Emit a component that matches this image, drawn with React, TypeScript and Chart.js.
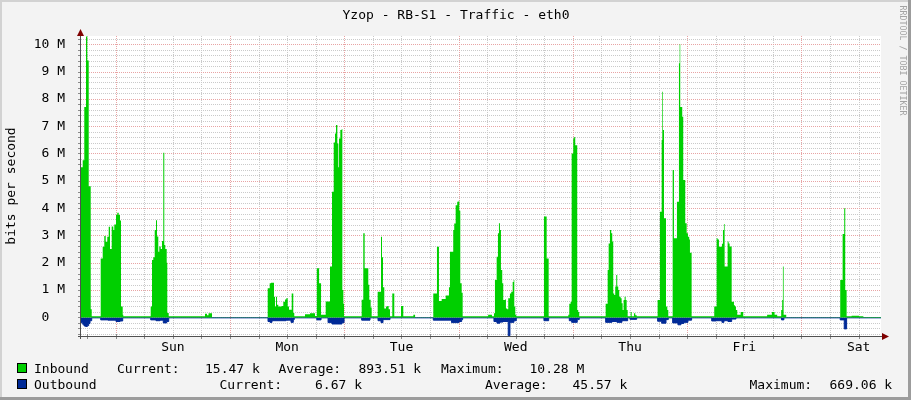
import React, { useEffect, useRef } from 'react';
import { Chart, registerables } from 'chart.js';
Chart.register(...registerables);

// ---------- text ----------
const TITLE = 'Yzop - RB-S1 - Traffic - eth0';
const Y_TITLE = 'bits per second';
const WATERMARK = 'RRDTOOL / TOBI OETIKER';
const dayLabels = ['Sun', 'Mon', 'Tue', 'Wed', 'Thu', 'Fri', 'Sat'];
const yTickValues = [0, 1, 2, 3, 4, 5, 6, 7, 8, 9, 10];
const inboundStats = ['15.47 k', '893.51 k', '10.28 M'];
const outboundStats = ['6.67 k', '45.57 k', '669.06 k'];

// ---------- data: [hour of day, Mbit/s] steps, per day ----------
const inSatPrev = [[16.7,5.5],[17.06,5.75],[17.39,7.7],[17.75,10.28],[18.02,9.4],[18.32,4.8],[18.74,0.3],[18.95,0.04],[20.84,2.16],[21.26,2.59],[21.59,2.98],[21.89,2.77],[22.22,2.95],[22.52,3.32],[22.79,2.5],[23.15,3.33],[23.48,3.2],[23.69,3.4]];
const inSun = [[0.05,3.75],[0.32,3.83],[0.62,3.75],[0.89,3.55],[1.1,0.4],[1.46,0.1],[1.58,0.04],[7.34,0.4],[7.61,2.1],[7.88,2.2],[8.18,3.2],[8.45,3.56],[8.66,2.96],[8.93,2.4],[9.14,2.6],[9.44,2.5],[9.71,2.8],[9.98,6.03],[10.19,2.65],[10.4,2.5],[10.7,2.0],[10.82,0.16],[11.12,0.04],[18.74,0.13],[19.16,0.08],[19.48,0.15],[20.21,0.005]];
const inMon = [[7.91,1.07],[8.33,1.25],[8.6,1.27],[9.23,0.76],[9.44,0.4],[9.65,0.76],[9.86,0.46],[10.13,0.4],[10.85,0.42],[11.18,0.57],[11.54,0.66],[11.81,0.7],[12.11,0.4],[12.38,0.28],[12.95,0.88],[13.28,0.16],[13.49,0.04],[15.74,0.12],[16.79,0.15],[17.84,0.05],[18.22,1.8],[18.7,1.25],[19.11,0.1],[20.09,0.58],[20.99,1.86],[21.41,4.6],[21.77,6.4],[22.04,6.73],[22.25,7.04],[22.53,6.37],[22.74,5.5],[22.88,6.55],[23.16,6.86],[23.45,6.9],[23.58,1.0],[23.79,0.5],[23.94,0.04]];
const inTue = [[3.64,0.65],[3.98,3.08],[4.27,1.8],[5.03,1.2],[5.24,0.65],[5.53,0.36],[5.74,0.04],[7.0,0.94],[7.7,2.95],[7.91,2.2],[8.12,1.1],[8.39,0.33],[8.75,0.4],[9.02,0.42],[9.31,0.3],[9.59,0.04],[10.07,0.88],[10.49,0.04],[11.9,0.42],[12.38,0.04],[14.5,0.1],[14.86,0.01],[18.68,0.88],[19.45,2.59],[19.87,0.6],[20.44,0.67],[21.28,0.8],[21.97,1.1],[22.18,2.4],[22.87,3.2],[23.08,3.44],[23.38,4.11],[23.71,4.23]];
const inWed = [[0.01,4.27],[0.14,3.9],[0.35,1.25],[0.64,0.9],[0.85,0.04],[6.2,0.1],[7.0,0.04],[7.42,0.15],[7.63,1.37],[7.99,2.22],[8.26,3.08],[8.47,3.45],[8.68,3.2],[8.89,1.74],[9.16,1.25],[9.37,0.64],[9.73,0.66],[9.94,0.33],[10.21,0.3],[10.42,0.7],[10.78,0.88],[11.05,0.94],[11.35,1.3],[11.56,1.37],[11.69,0.4],[11.9,0.1],[12.11,0.04],[17.92,3.69],[18.49,2.16],[18.91,0.04],[23.03,0.1],[23.24,0.5],[23.53,0.57],[23.74,6.0]];
const inThu = [[0.07,6.55],[0.28,6.6],[0.49,6.3],[0.91,0.27],[1.12,0.2],[1.33,0.04],[6.88,0.5],[7.3,1.74],[7.51,2.71],[7.78,3.2],[8.05,3.08],[8.26,2.78],[8.47,0.88],[8.68,0.82],[8.89,1.13],[9.1,1.55],[9.31,1.13],[9.52,1.0],[9.73,0.76],[10.02,0.7],[10.23,0.52],[10.44,0.27],[10.65,0.64],[10.86,0.76],[11.08,0.64],[11.29,0.27],[11.5,0.04],[12.13,0.2],[12.34,0.04],[12.82,0.15],[13.1,0.08],[13.39,0.04],[17.79,0.64],[18.28,3.87],[18.64,6.49],[18.77,8.26],[18.91,6.86],[19.13,3.63],[19.55,0.4],[19.82,0.27],[20.03,0.04],[20.95,5.4],[21.22,2.9],[21.85,4.23],[22.27,9.3],[22.42,10.0],[22.54,7.7],[22.96,7.34],[23.17,5.03],[23.59,3.45],[23.89,3.08]];
const inFri = [[0.16,2.95],[0.43,2.85],[0.58,2.37],[0.93,0.04],[5.68,0.4],[6.18,2.9],[6.39,2.85],[6.67,2.59],[7.3,2.7],[7.51,3.2],[7.72,3.42],[7.86,1.86],[8.49,2.78],[8.7,2.71],[8.91,2.6],[9.34,0.57],[9.82,0.45],[10.03,0.4],[10.24,0.27],[10.51,0.1],[11.23,0.2],[11.77,0.04],[16.79,0.1],[17.78,0.2],[18.35,0.1],[18.9,0.04],[19.74,0.27],[19.95,0.64],[20.1,1.86],[20.25,0.1],[20.8,0.01]];
const inSat = [[8.14,1.37],[8.64,3.05],[8.98,4.0],[9.19,1.0],[9.48,0.04],[10.53,0.06],[12.1,0.04],[13.0,0.015],[16.7,0.015]];

const outSatPrev = [[16.7,-0.19],[17.06,-0.25],[17.33,-0.31],[17.65,-0.33],[18.02,-0.3],[18.32,-0.22],[18.59,-0.12],[18.95,-0.015],[20.84,-0.09],[22.37,-0.1]];
const outSun = [[0.05,-0.15],[0.89,-0.13],[1.46,-0.015],[7.34,-0.09],[8.45,-0.12],[9.29,-0.1],[9.98,-0.2],[10.7,-0.15],[11.12,-0.015]];
const outMon = [[7.97,-0.15],[8.39,-0.18],[8.81,-0.12],[11.75,-0.1],[12.8,-0.18],[13.28,-0.08],[13.49,-0.015],[18.22,-0.09],[19.11,-0.015],[20.58,-0.19],[21.41,-0.24],[23.51,-0.19],[23.94,-0.015]];
const outTue = [[3.64,-0.1],[5.39,-0.015],[7.07,-0.12],[7.7,-0.19],[8.12,-0.08],[9.59,-0.015],[18.68,-0.1],[22.51,-0.19]];
const outWed = [[0.07,-0.15],[0.64,-0.08],[0.85,-0.015],[7.42,-0.15],[8.05,-0.21],[8.68,-0.17],[9.31,-0.15],[10.42,-0.669],[10.78,-0.18],[11.62,-0.12],[12.11,-0.015],[17.92,-0.12],[18.91,-0.015],[23.24,-0.12],[23.74,-0.18]];
const outThu = [[0.91,-0.08],[1.33,-0.015],[6.88,-0.18],[8.2,-0.15],[9.25,-0.18],[10.3,-0.12],[11.5,-0.015],[11.98,-0.07],[13.39,-0.015],[17.79,-0.14],[18.64,-0.21],[19.55,-0.08],[20.03,-0.015],[20.95,-0.2],[22.06,-0.27],[22.69,-0.22],[23.32,-0.18]];
const outFri = [[0.16,-0.1],[0.93,-0.015],[5.15,-0.13],[6.04,-0.12],[7.3,-0.18],[7.72,-0.12],[8.56,-0.15],[9.34,-0.06],[10.24,-0.015],[19.81,-0.09],[20.3,-0.015]];
const outSat = [[8.14,-0.09],[8.98,-0.42],[9.48,-0.015],[16.7,-0.015]];

const inboundDays = [inSatPrev, inSun, inMon, inTue, inWed, inThu, inFri, inSat];
const outboundDays = [outSatPrev, outSun, outMon, outTue, outWed, outThu, outFri, outSat];

// day index -1 = Saturday before the first midnight (Sun 00:00 = hour 0)
const toPoints = (days: number[][][]) =>
  days.flatMap((arr, i) => arr.map(([h, v]) => ({ x: (i - 1) * 24 + h, y: v })));

const X_MIN = -7.3;
const X_MAX = 160.7;
const Y_MIN = -0.68;
const Y_MAX = 10.3;

const FONT = '"DejaVu Sans Mono", monospace';
const GRID = '#CACACA';
const MGRID = '#E8A4A4';

const rrdPlugin = {
  id: 'rrd',
  beforeDraw(chart: any) {
    const ctx = chart.ctx as CanvasRenderingContext2D;
    const { left, right, top, bottom } = chart.chartArea;
    ctx.save();
    ctx.fillStyle = '#F3F3F3';
    ctx.fillRect(0, 0, 911, 400);
    ctx.fillStyle = '#D2D2D2';
    ctx.fillRect(0, 0, 911, 2);
    ctx.fillRect(0, 0, 2, 400);
    ctx.fillStyle = '#9C9C9C';
    ctx.fillRect(0, 397, 911, 3);
    ctx.fillRect(908, 0, 3, 400);
    ctx.fillStyle = '#FFFFFF';
    ctx.fillRect(left, top, right - left, bottom - top);
    ctx.restore();
  },
  beforeDatasetsDraw(chart: any) {
    const ctx = chart.ctx as CanvasRenderingContext2D;
    const { left, right, top, bottom } = chart.chartArea;
    const xs = chart.scales.x;
    const ys = chart.scales.y;
    ctx.save();
    ctx.lineWidth = 1;
    ctx.setLineDash([1, 1]);
    const hline = (v: number, color: string) => {
      const y = Math.round(ys.getPixelForValue(v)) + 0.5;
      if (y < top || y > bottom) return;
      ctx.strokeStyle = color;
      ctx.beginPath();
      ctx.moveTo(left, y);
      ctx.lineTo(right, y);
      ctx.stroke();
    };
    const vline = (h: number, color: string) => {
      const x = Math.round(xs.getPixelForValue(h)) + 0.5;
      if (x < left || x > right) return;
      ctx.strokeStyle = color;
      ctx.beginPath();
      ctx.moveTo(x, top);
      ctx.lineTo(x, bottom);
      ctx.stroke();
    };
    for (let k = -3; k <= 51; k++) if (k % 5 !== 0) hline(k * 0.2, GRID);
    for (let h = -6; h <= 156; h += 6) if (h % 24 !== 0) vline(h, GRID);
    for (const v of yTickValues) hline(v, MGRID);
    for (let h = 0; h <= 144; h += 24) vline(h, MGRID);
    ctx.restore();
  },
  afterDatasetsDraw(chart: any) {
    const ctx = chart.ctx as CanvasRenderingContext2D;
    const { left, right, top, bottom } = chart.chartArea;
    const xs = chart.scales.x;
    const ys = chart.scales.y;
    ctx.save();
    ctx.setLineDash([]);
    ctx.lineWidth = 1;
    // tick marks
    ctx.strokeStyle = '#8A8A8A';
    for (let h = -6; h <= 156; h += 6) {
      const x = Math.round(xs.getPixelForValue(h)) + 0.5;
      ctx.beginPath();
      ctx.moveTo(x, bottom - 2);
      ctx.lineTo(x, bottom + 3);
      ctx.stroke();
    }
    for (let k = -3; k <= 51; k++) {
      const y = Math.round(ys.getPixelForValue(k * 0.2)) + 0.5;
      if (y < top) continue;
      ctx.beginPath();
      ctx.moveTo(left - 3, y);
      ctx.lineTo(left, y);
      ctx.stroke();
    }
    // axes
    ctx.strokeStyle = '#505050';
    ctx.beginPath();
    ctx.moveTo(left - 3, bottom + 0.5);
    ctx.lineTo(right + 2, bottom + 0.5);
    ctx.stroke();
    ctx.beginPath();
    ctx.moveTo(left - 0.5, top - 4);
    ctx.lineTo(left - 0.5, bottom + 3);
    ctx.stroke();
    // arrows
    ctx.fillStyle = '#7F0000';
    ctx.beginPath();
    ctx.moveTo(right + 1, bottom - 3);
    ctx.lineTo(right + 8, bottom + 0.5);
    ctx.lineTo(right + 1, bottom + 4);
    ctx.closePath();
    ctx.fill();
    ctx.beginPath();
    ctx.moveTo(left - 4, top);
    ctx.lineTo(left - 0.5, top - 7);
    ctx.lineTo(left + 3, top);
    ctx.closePath();
    ctx.fill();
    ctx.restore();
  },
  afterDraw(chart: any) {
    const ctx = chart.ctx as CanvasRenderingContext2D;
    ctx.save();
    ctx.fillStyle = '#000';
    ctx.font = `13px ${FONT}`;
    ctx.textBaseline = 'alphabetic';
    ctx.textAlign = 'center';
    ctx.fillText(TITLE, 456, 18.5);

    ctx.save();
    ctx.translate(15, 186);
    ctx.rotate(-Math.PI / 2);
    ctx.textAlign = 'center';
    ctx.fillText(Y_TITLE, 0, 0);
    ctx.restore();

    ctx.textAlign = 'left';
    const r1 = 372.5;
    const r2 = 388.5;
    ctx.fillStyle = '#00CF00';
    ctx.fillRect(17, 363, 10, 10);
    ctx.fillStyle = '#002A97';
    ctx.fillRect(17, 379, 10, 10);
    ctx.strokeStyle = '#000';
    ctx.lineWidth = 1;
    ctx.strokeRect(17.5, 363.5, 9, 9);
    ctx.strokeRect(17.5, 379.5, 9, 9);
    ctx.fillStyle = '#000';
    ctx.fillText('Inbound', 34, r1);
    ctx.fillText('Current:', 117, r1);
    ctx.fillText(inboundStats[0], 205, r1);
    ctx.fillText('Average:', 278.5, r1);
    ctx.fillText(inboundStats[1], 358.5, r1);
    ctx.fillText('Maximum:', 441, r1);
    ctx.fillText(inboundStats[2], 529.5, r1);
    ctx.fillText('Outbound', 34, r2);
    ctx.fillText('Current:', 219.5, r2);
    ctx.fillText(outboundStats[0], 315, r2);
    ctx.fillText('Average:', 485, r2);
    ctx.fillText(outboundStats[1], 572.5, r2);
    ctx.fillText('Maximum:', 749.5, r2);
    ctx.fillText(outboundStats[2], 829.5, r2);

    ctx.save();
    ctx.fillStyle = '#A3A3A3';
    ctx.font = `8.3px ${FONT}`;
    ctx.translate(899.5, 5.5);
    ctx.rotate(Math.PI / 2);
    ctx.textAlign = 'left';
    ctx.fillText(WATERMARK, 0, 0);
    ctx.restore();
    ctx.restore();
  },
};

export default function App() {
  const ref = useRef<HTMLCanvasElement>(null);
  useEffect(() => {
    if (!ref.current) return;
    const chart = new Chart(ref.current, {
      type: 'line',
      data: {
        datasets: [
          {
            label: 'Inbound',
            data: toPoints(inboundDays),
            stepped: true,
            fill: 'origin',
            backgroundColor: '#00CF00',
            borderColor: 'rgba(0,0,0,0)',
            borderWidth: 0,
            pointRadius: 0,
          },
          {
            label: 'Outbound',
            data: toPoints(outboundDays),
            stepped: true,
            fill: 'origin',
            backgroundColor: '#002A97',
            borderColor: '#002A97',
            borderWidth: 1,
            pointRadius: 0,
          },
        ],
      },
      options: {
        animation: false,
        responsive: false,
        events: [],
        layout: { padding: { left: 0, right: 30, top: 36, bottom: 0 } },
        plugins: {
          legend: { display: false },
          title: { display: false },
          tooltip: { enabled: false },
        },
        scales: {
          x: {
            type: 'linear',
            min: X_MIN,
            max: X_MAX,
            grid: { display: false },
            border: { display: false },
            afterBuildTicks: (s: any) => {
              s.ticks = dayLabels.map((_, i) => ({ value: i * 24 + 12 }));
            },
            afterFit: (s: any) => {
              s.height = 64;
            },
            ticks: {
              autoSkip: false,
              maxRotation: 0,
              padding: -4,
              color: '#000',
              font: { family: FONT, size: 13 },
              callback: (v: any) => dayLabels[Math.round((Number(v) - 12) / 24)] ?? '',
            },
          },
          y: {
            type: 'linear',
            min: Y_MIN,
            max: Y_MAX,
            grid: { display: false },
            border: { display: false },
            afterBuildTicks: (s: any) => {
              s.ticks = yTickValues.map((v) => ({ value: v }));
            },
            afterFit: (s: any) => {
              s.width = 81;
            },
            ticks: {
              padding: 8,
              color: '#000',
              font: { family: FONT, size: 13 },
              callback: (v: any) => (Number(v) === 0 ? '0  ' : `${v} M`),
            },
          },
        },
      } as any,
      plugins: [rrdPlugin],
    });
    return () => chart.destroy();
  }, []);
  return (
    <div style={{ position: 'absolute', left: 0, top: 0, width: 911, height: 400 }}>
      <canvas ref={ref} width={911} height={400} style={{ display: 'block' }} />
    </div>
  );
}
